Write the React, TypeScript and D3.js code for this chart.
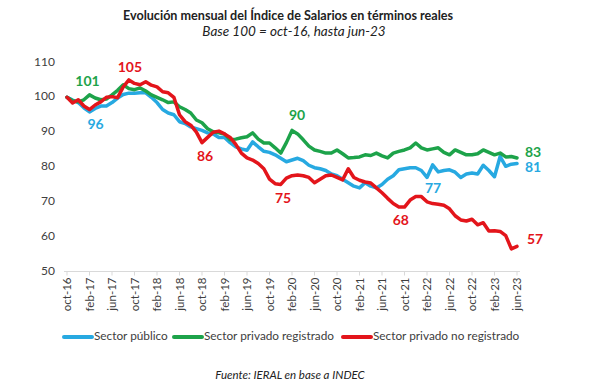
import React from 'react';
import * as d3 from 'd3';

// Categories: Oct-16 .. Jun-23 monthly (81 points), x-axis labelled every 4 months
const tickLabels = [
  'oct-16', 'feb-17', 'jun-17', 'oct-17', 'feb-18', 'jun-18', 'oct-18',
  'feb-19', 'jun-19', 'oct-19', 'feb-20', 'jun-20', 'oct-20', 'feb-21',
  'jun-21', 'oct-21', 'feb-22', 'jun-22', 'oct-22', 'feb-23', 'jun-23',
];
const yTicks = [50, 60, 70, 80, 90, 100, 110];

const publico = [
  100, 99.2, 98.5, 97, 95.8, 96.8, 97.5, 97.5, 98.5, 99.8,
  100.8, 101.2, 101.2, 101.3, 101.3, 100, 98.5, 96.5, 95.5, 95,
  93, 92.5, 91.5, 91, 90.5, 89.8, 89.5, 88.5, 88.5, 87,
  85.8, 85.2, 84.8, 87.2, 85.8, 84.5, 84.2, 83.5, 82.5, 81.5,
  82, 82.5, 81.8, 80.5, 79.8, 79.5, 79, 78, 77.5, 76.5,
  75.5, 74.5, 74, 75.5, 74.5, 74, 75, 76.5, 77.5, 79.2,
  79.5, 79.8, 79.8, 79, 77, 80.6, 78.6, 79, 79.2, 78.5,
  77, 78, 78.3, 78, 80.5, 79, 77.2, 83, 80.2, 80.8,
  81,
];

const privadoRegistrado = [
  100, 99, 98.7, 99.3, 100.7, 99.8, 99.3, 99.5, 100.7, 102,
  103.6, 102.5, 102.2, 102.7, 101.8, 100.7, 100, 99.3, 98.5, 98.7,
  97.3, 96.5, 95.5, 93.5, 92.7, 91, 90.1, 89.8, 89.5, 87.8,
  88, 88.4, 88.7, 89.8, 88, 86.9, 86.9, 85.5, 84, 87,
  90.5, 89.5, 87.8, 86, 84.9, 84.5, 84, 84, 84.9, 83.8,
  82.6, 82.7, 82.9, 83.5, 83.3, 84, 83.2, 82.6, 84, 84.5,
  84.9, 85.5, 86.9, 85.5, 84.9, 85.2, 85.5, 84.2, 83.5, 84.9,
  84.2, 83.5, 83.5, 83.8, 84.9, 84.2, 83.5, 84, 82.9, 83,
  82.6,
];

const privadoNoRegistrado = [
  100, 98.4, 99.3, 97.5, 96.5, 97.8, 98.7, 100, 100.2, 99.9,
  103, 105, 104, 103.6, 104.5, 103.5, 103, 101.6, 101.3, 100,
  95, 93, 92, 90, 87, 88.5, 90, 90.3, 89.5, 88.5,
  86.5, 84, 82.6, 82, 81, 79.5, 76.5, 75.2, 75, 76.8,
  77.5, 77.7, 77.5, 77, 75.5, 76.5, 77.5, 77.7, 77, 76.3,
  79.5, 77, 76.2, 75.7, 75.4, 74, 72.6, 71, 69.5, 68.5,
  68.5, 70.5, 71.5, 71.5, 70, 69.5, 69.3, 69, 68, 66,
  64.8, 64.5, 65, 63.4, 64, 61.6, 61.7, 61.5, 60.3, 56.5,
  57.2,
];

const seriesNames = ['Sector público', 'Sector privado registrado', 'Sector privado no registrado'];
const seriesColors = ['#27A9E1', '#1DA34A', '#E3151B'];
const seriesValues = [publico, privadoRegistrado, privadoNoRegistrado];

// data labels: series, month index, text, offset
const annotations = [
  { s: 1, i: 4, text: '101', dx: -2, dy: -12 },
  { s: 0, i: 4, text: '96', dx: 6, dy: 13 },
  { s: 2, i: 11, text: '105', dx: 1, dy: -12 },
  { s: 2, i: 24, text: '86', dx: 3, dy: 15 },
  { s: 1, i: 40, text: '90', dx: 5, dy: -14 },
  { s: 2, i: 37, text: '75', dx: 8, dy: 16 },
  { s: 2, i: 59, text: '68', dx: 2, dy: 14 },
  { s: 0, i: 64, text: '77', dx: 6, dy: 12 },
  { s: 1, i: 80, text: '83', dx: 16, dy: -5 },
  { s: 0, i: 80, text: '81', dx: 16, dy: 5 },
  { s: 2, i: 80, text: '57', dx: 18, dy: -6 },
];

const W = 603;
const H = 386;
const font = 'Lato, "Open Sans", sans-serif';

const App: React.FC = () => {
  const n = publico.length;
  const x = d3.scaleLinear().domain([0, n - 1]).range([67, 517]);
  const y = d3.scaleLinear().domain([50, 110]).range([271.5, 62.5]);

  const line = d3
    .line<number>()
    .x((_, i) => x(i))
    .y(d => y(d))
    .curve(d3.curveLinear);

  // legend entry start positions
  const legendX = [63, 173, 342];

  return (
    <svg
      width={W}
      height={H}
      style={{ position: 'absolute', left: 0, top: 0, background: '#fff' }}
      fontFamily={font}
    >
      {/* Title */}
      <text x={288} y={20} textAnchor="middle" fontSize={12.6} fontWeight="bold" fill="#222">
        Evolución mensual del Índice de Salarios en términos reales
      </text>
      <text x={294} y={36} textAnchor="middle" fontSize={13.5} fontStyle="italic" fill="#222">
        Base 100 = oct-16, hasta jun-23
      </text>

      {/* Y tick labels */}
      {yTicks.map(t => (
        <text key={t} x={55} y={y(t)} textAnchor="end" dominantBaseline="middle" fontSize={12} fill="#404040">
          {t}
        </text>
      ))}

      {/* X axis */}
      <line x1={64} x2={520} y1={y(50)} y2={y(50)} stroke="#d9d9d9" strokeWidth={1} />
      {tickLabels.map((lab, k) => {
        const xi = x(k * 4);
        return (
          <g key={lab}>
            <line x1={xi} x2={xi} y1={y(50)} y2={y(50) + 4} stroke="#d9d9d9" />
            <text
              transform={`translate(${xi + 4},${y(50) + 6}) rotate(-90)`}
              textAnchor="end"
              fontSize={11.5}
              fill="#404040"
            >
              {lab}
            </text>
          </g>
        );
      })}

      {/* Series lines */}
      {seriesValues.map((vals, s) => (
        <path
          key={seriesNames[s]}
          d={line(vals) || ''}
          fill="none"
          stroke={seriesColors[s]}
          strokeWidth={3.5}
          strokeLinejoin="round"
          strokeLinecap="round"
        />
      ))}

      {/* Data labels */}
      {annotations.map((a, k) => (
        <text
          key={k}
          x={x(a.i) + a.dx}
          y={y(seriesValues[a.s][a.i]) + a.dy}
          textAnchor="middle"
          dominantBaseline="middle"
          fontSize={14}
          fontWeight="bold"
          fill={seriesColors[a.s]}
        >
          {a.text}
        </text>
      ))}

      {/* Legend */}
      {seriesNames.map((name, s) => (
        <g key={name} transform={`translate(${legendX[s]},337)`}>
          <line x1={1} x2={29} y1={0} y2={0} stroke={seriesColors[s]} strokeWidth={4} strokeLinecap="round" />
          <text x={31} y={0} dominantBaseline="middle" fontSize={11.8} fill="#404040">
            {name}
          </text>
        </g>
      ))}

      {/* Source */}
      <text x={290} y={379} textAnchor="middle" fontSize={11.5} fontStyle="italic" fill="#222">
        Fuente: IERAL en base a INDEC
      </text>
    </svg>
  );
};

export default App;
